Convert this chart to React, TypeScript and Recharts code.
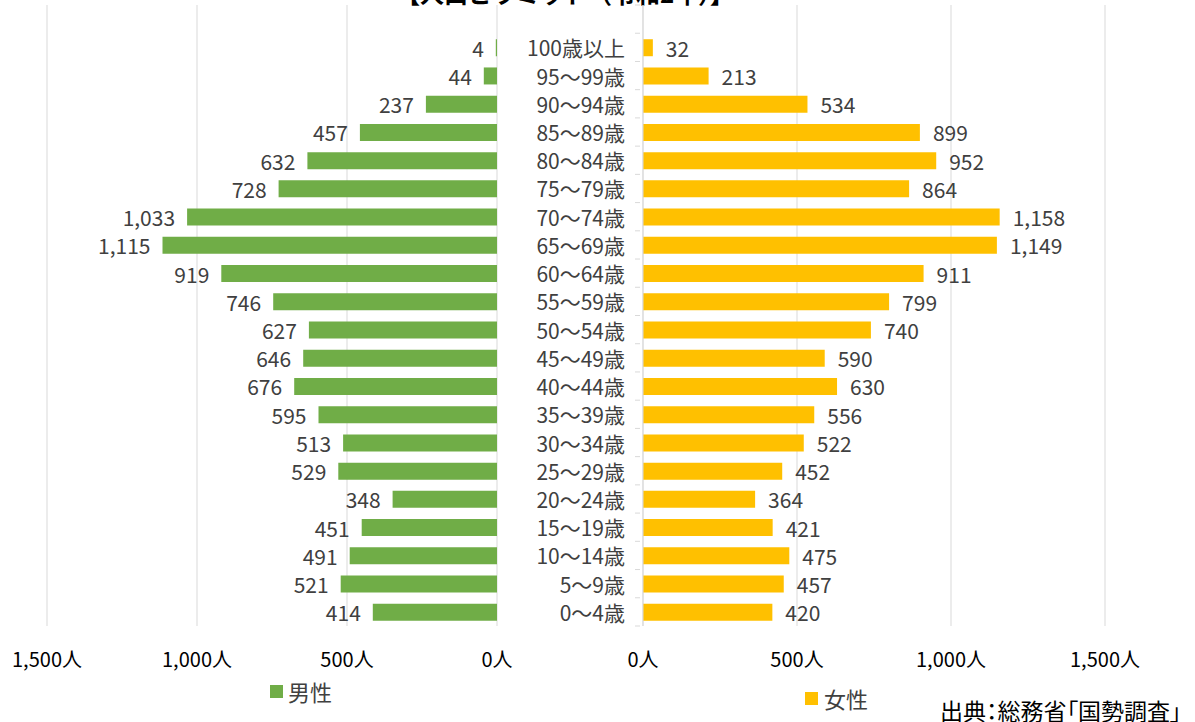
import { Bar, BarChart, CartesianGrid, LabelList, XAxis, YAxis } from 'recharts';

// top row is an empty band, like the source sheet
const ages = [
  '', '100歳以上', '95～99歳', '90～94歳', '85～89歳', '80～84歳', '75～79歳', '70～74歳',
  '65～69歳', '60～64歳', '55～59歳', '50～54歳', '45～49歳', '40～44歳', '35～39歳',
  '30～34歳', '25～29歳', '20～24歳', '15～19歳', '10～14歳', '5～9歳', '0～4歳',
];
const male = [null, 4, 44, 237, 457, 632, 728, 1033, 1115, 919, 746, 627, 646, 676, 595, 513, 529, 348, 451, 491, 521, 414];
const female = [null, 32, 213, 534, 899, 952, 864, 1158, 1149, 911, 799, 740, 590, 630, 556, 522, 452, 364, 421, 475, 457, 420];
const xTicks = [0, 500, 1000, 1500];

const rows = ages.map((age, i) => ({ age, male: male[i], female: female[i] }));

const FONT = '"Noto Sans CJK JP", "Noto Sans", sans-serif';
const TEXT = '#404040';
const GRID = '#d9d9d9';
const H = 700;
const TOP = 5;
const AXIS_H = 74;
const BAND = (H - TOP - AXIS_H) / rows.length;

const fmtTick = (v: number) => `${v.toLocaleString()}人`;

function LeftLabel(props: any) {
  const { x, y, width, height, value } = props;
  if (value == null) return null;
  const left = Math.min(x, x + width);
  return (
    <text x={left - 12} y={y + height / 2} textAnchor="end" dominantBaseline="central" fill={TEXT} fontSize={21} fontFamily={FONT}>
      {Number(value).toLocaleString()}
    </text>
  );
}

function RightLabel(props: any) {
  const { x, y, width, height, value } = props;
  if (value == null) return null;
  const right = Math.max(x, x + width);
  return (
    <text x={right + 13} y={y + height / 2} textAnchor="start" dominantBaseline="central" fill={TEXT} fontSize={21} fontFamily={FONT}>
      {Number(value).toLocaleString()}
    </text>
  );
}

// category tick with Excel-style boundary tick marks
function AgeTick(props: any) {
  const { x, y, payload, index } = props;
  const axisX = x + 5;
  return (
    <g>
      <line x1={axisX - 5} x2={axisX} y1={y - BAND / 2} y2={y - BAND / 2} stroke={GRID} />
      {index === rows.length - 1 && <line x1={axisX - 5} x2={axisX} y1={y + BAND / 2} y2={y + BAND / 2} stroke={GRID} />}
      <text x={axisX - 15} y={y} textAnchor="end" dominantBaseline="central" fill={TEXT} fontSize={21} fontFamily={FONT}>
        {payload.value}
      </text>
    </g>
  );
}

export default function App() {
  return (
    <div style={{ position: 'absolute', left: 0, top: 0, width: 1195, height: 722, background: '#fff', overflow: 'hidden', fontFamily: FONT }}>
      <div style={{ position: 'absolute', top: -19, left: 0, width: 1130, textAlign: 'center', fontSize: 24, fontWeight: 700, color: '#000', lineHeight: 1 }}>
        【人口ピラミッド（令和2年）】
      </div>

      <div style={{ position: 'absolute', left: 0, top: 0 }}>
        <BarChart width={520} height={H} data={rows} layout="vertical" margin={{ top: TOP, right: 23, bottom: 0, left: 47 }}>
          <CartesianGrid horizontal={false} stroke={GRID} />
          <XAxis
            type="number"
            domain={[0, 1500]}
            ticks={xTicks}
            reversed
            height={AXIS_H}
            axisLine={false}
            tickLine={false}
            tickMargin={21}
            tickFormatter={fmtTick}
            tick={{ fill: '#000', fontSize: 20, fontFamily: FONT }}
            interval={0}
          />
          <YAxis type="category" dataKey="age" hide />
          <Bar dataKey="male" fill="#70AD47" barSize={17} isAnimationActive={false}>
            <LabelList dataKey="male" content={LeftLabel} />
          </Bar>
        </BarChart>
      </div>

      <div style={{ position: 'absolute', left: 520, top: 0 }}>
        <BarChart width={675} height={H} data={rows} layout="vertical" margin={{ top: TOP, right: 90, bottom: 0, left: 0 }}>
          <CartesianGrid horizontal={false} stroke={GRID} />
          <XAxis
            type="number"
            domain={[0, 1500]}
            ticks={xTicks}
            height={AXIS_H}
            axisLine={false}
            tickLine={false}
            tickMargin={21}
            tickFormatter={fmtTick}
            tick={{ fill: '#000', fontSize: 20, fontFamily: FONT }}
            interval={0}
          />
          <YAxis
            type="category"
            dataKey="age"
            width={123}
            axisLine={{ stroke: GRID }}
            tickLine={false}
            tick={AgeTick}
            interval={0}
          />
          <Bar dataKey="female" fill="#FFC000" barSize={17} isAnimationActive={false}>
            <LabelList dataKey="female" content={RightLabel} />
          </Bar>
        </BarChart>
      </div>

      <div style={{ position: 'absolute', left: 270, top: 675, display: 'flex', alignItems: 'center', fontSize: 22, color: TEXT }}>
        <span style={{ width: 13, height: 13, background: '#70AD47', marginRight: 5, display: 'inline-block' }} />
        男性
      </div>
      <div style={{ position: 'absolute', left: 805, top: 682, display: 'flex', alignItems: 'center', fontSize: 22, color: TEXT }}>
        <span style={{ width: 13, height: 13, background: '#FFC000', marginRight: 6, display: 'inline-block' }} />
        女性
      </div>
      <div style={{ position: 'absolute', left: 940, top: 693, fontSize: 23, color: '#000', whiteSpace: 'nowrap', fontFeatureSettings: '"palt"' }}>
        出典：総務省「国勢調査」
      </div>
    </div>
  );
}
